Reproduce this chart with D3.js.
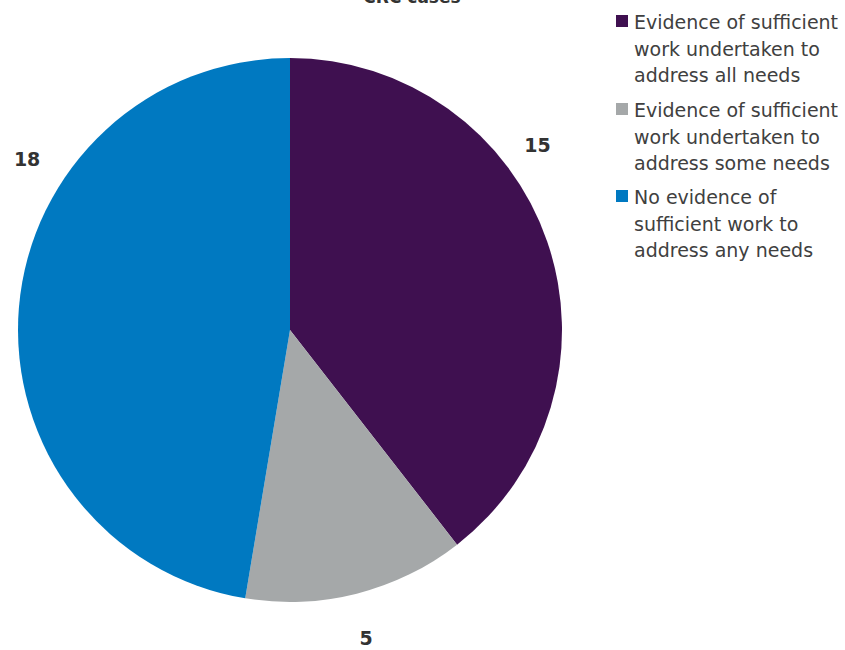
<!DOCTYPE html>
<html>
<head>
<meta charset="utf-8">
<script src="https://cdn.jsdelivr.net/npm/d3@7"></script>
<style>
  html, body { margin: 0; padding: 0; background: #fff; }
  svg { display: block; }
</style>
</head>
<body>
<svg id="chart" width="845" height="650"></svg>
<script>
// Case outcomes
const titleText = "CRC cases";
const categories = [
  ["Evidence of sufficient", "work undertaken to", "address all needs"],
  ["Evidence of sufficient", "work undertaken to", "address some needs"],
  ["No evidence of", "sufficient work to", "address any needs"]
];
const values = [15, 5, 18];
const colors = ["#3f1050", "#a5a8a9", "#0079c1"];

const svg = d3.select("#chart");
const cx = 290, cy = 330, radius = 272;

// Title (top line runs off the top edge)
svg.append("text")
  .attr("x", 412).attr("y", 3)
  .attr("text-anchor", "middle")
  .attr("font-family", "DejaVu Sans, Verdana, sans-serif")
  .attr("font-weight", "bold")
  .attr("font-size", 17)
  .attr("fill", "#333")
  .text(titleText);

const pie = d3.pie().sort(null).value(d => d)(values);
const arc = d3.arc().innerRadius(0).outerRadius(radius);

const g = svg.append("g").attr("transform", `translate(${cx},${cy})`);
g.selectAll("path.slice")
  .data(pie)
  .join("path")
  .attr("class", "slice")
  .attr("d", arc)
  .attr("fill", (d, i) => colors[i]);

// Value labels placed outside each slice, nudged to clear the legend
const labelArc = d3.arc().innerRadius(radius + 50).outerRadius(radius + 50);
const labelOffsets = [[-57, -80], [-3, -4], [58, -144]];
g.selectAll("text.value")
  .data(pie)
  .join("text")
  .attr("class", "value")
  .attr("x", (d, i) => labelArc.centroid(d)[0] + labelOffsets[i][0])
  .attr("y", (d, i) => labelArc.centroid(d)[1] + labelOffsets[i][1])
  .attr("text-anchor", "middle")
  .attr("dominant-baseline", "central")
  .attr("font-family", "DejaVu Sans, Verdana, sans-serif")
  .attr("font-weight", "bold")
  .attr("font-size", 19)
  .attr("fill", "#333")
  .text(d => d.value);

// Legend
const legend = svg.append("g").attr("transform", "translate(616,0)");
const groupTops = [22, 110, 197];
const lineH = 26.5;
categories.forEach((lines, i) => {
  const item = legend.append("g").attr("transform", `translate(0,${groupTops[i]})`);
  item.append("rect")
    .attr("x", 0).attr("y", -7)
    .attr("width", 12).attr("height", 12)
    .attr("fill", colors[i]);
  const t = item.append("text")
    .attr("font-family", "DejaVu Sans, Verdana, sans-serif")
    .attr("font-size", 19)
    .attr("fill", "#404040");
  lines.forEach((ln, j) => {
    t.append("tspan")
      .attr("x", 18)
      .attr("y", j * lineH)
      .attr("dominant-baseline", "central")
      .text(ln);
  });
});
</script>
</body>
</html>
